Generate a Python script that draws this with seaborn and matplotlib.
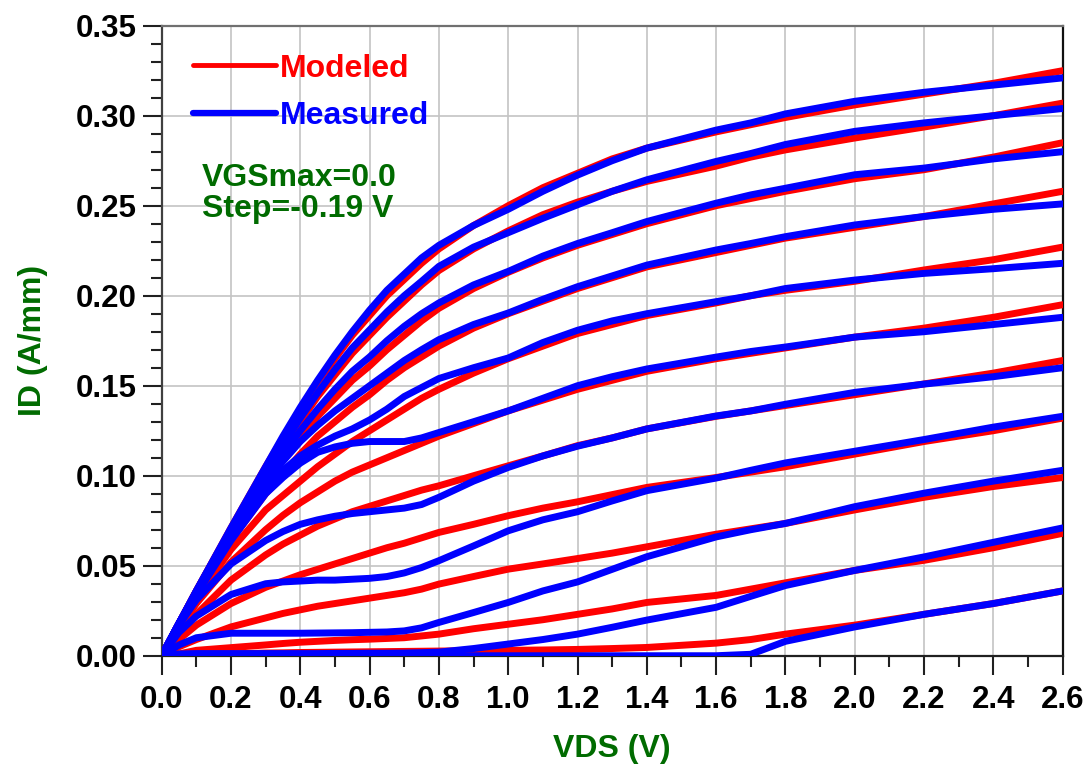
import numpy as np
import pandas as pd
import matplotlib
matplotlib.use("Agg")
import matplotlib.pyplot as plt
from matplotlib.lines import Line2D
from matplotlib.ticker import MultipleLocator, FormatStrFormatter
import seaborn as sns

# ---------------- data ----------------
vds = [0, 0.05, 0.1, 0.2, 0.3, 0.35, 0.4, 0.45, 0.5, 0.55, 0.6, 0.65, 0.7, 0.75,
       0.8, 0.9, 1.0, 1.1, 1.2, 1.3, 1.4, 1.6, 1.7, 1.8, 2.0, 2.2, 2.4, 2.6]

# Modeled (red) curves, VGS = 0 ... -1.9 V in -0.19 V steps
mod_1 = [0, .018, .036, .071, .105, .121, .137, .152, .165, .178, .189, .200, .209, .218, .226, .239, .250, .260, .268, .276, .282, .291, .295, .299, .306, .312, .318, .325]
mod_2 = [0, .018, .036, .070, .101, .116, .130, .144, .156, .168, .178, .188, .197, .206, .214, .226, .236, .245, .252, .258, .2635, .272, .277, .281, .2876, .2937, .300, .307]
mod_3 = [0, .018, .035, .067, .096, .109, .121, .133, .143, .153, .161, .170, .178, .186, .193, .204, .213, .221, .228, .234, .240, .250, .254, .258, .265, .270, .277, .285]
mod_4 = [0, .017, .034, .064, .090, .101, .112, .122, .130, .138, .145, .153, .160, .166, .172, .182, .190, .197, .204, .210, .216, .224, .228, .232, .238, .244, .251, .258]
mod_5 = [0, .016, .032, .059, .081, .089, .097, .105, .112, .119, .125, .131, .137, .143, .148, .157, .165, .172, .179, .184, .189, .196, .200, .203, .208, .2143, .220, .227]
mod_6 = [0, .015, .029, .052, .070, .078, .085, .091, .097, .102, .106, .110, .114, .118, .122, .129, .136, .142, .148, .153, .158, .165, .168, .171, .177, .182, .188, .195]
mod_7 = [0, .012, .023, .042, .056, .062, .067, .072, .076, .080, .083, .086, .089, .092, .0944, .100, .1055, .111, .1167, .121, .126, .133, .136, .139, .145, .151, .157, .164]
mod_8 = [0, .009, .017, .029, .038, .0415, .045, .048, .051, .054, .057, .060, .0625, .0655, .0685, .073, .0778, .082, .0855, .0895, .0935, .099, .102, .105, .112, .119, .125, .132]
mod_9 = [0, .005, .009, .016, .021, .0235, .0255, .0275, .029, .0305, .032, .0335, .035, .037, .0398, .044, .0481, .051, .054, .057, .0605, .0675, .0705, .0735, .081, .088, .094, .099]
mod_10 = [0, .001, .003, .0045, .006, .0068, .0075, .008, .0085, .0089, .0092, .0096, .0100, .011, .012, .015, .0175, .020, .023, .026, .0296, .0335, .037, .0405, .0474, .053, .060, .068]
mod_11 = [0, 0, .0005, .001, .0015, .0016, .0018, .0019, .002, .0021, .0022, .0023, .0024, .0025, .0026, .0028, .003, .0032, .0035, .004, .0046, .007, .009, .012, .017, .023, .029, .036]

# Measured (blue) curves
meas_1 = [0, .018, .036, .071, .105, .122, .138, .153, .167, .180, .192, .203, .212, .221, .228, .239, .248, .258, .267, .275, .282, .292, .296, .301, .308, .313, .317, .321]
meas_2 = [0, .018, .036, .070, .102, .117, .132, .146, .159, .171, .181, .191, .200, .208, .2163, .227, .235, .243, .2505, .258, .2644, .2746, .279, .284, .2913, .296, .300, .304]
meas_3 = [0, .018, .035, .068, .098, .112, .125, .137, .148, .158, .166, .175, .183, .190, .196, .206, .2135, .222, .229, .235, .2412, .2514, .256, .2597, .2672, .2709, .276, .280]
meas_4 = [0, .018, .035, .067, .096, .108, .119, .128, .136, .143, .150, .157, .164, .170, .1756, .184, .1904, .198, .205, .211, .217, .2254, .229, .2328, .2393, .244, .248, .251]
meas_5 = [0, .018, .035, .066, .093, .103, .111, .117, .122, .126, .131, .137, .144, .149, .154, .160, .1654, .174, .1808, .186, .190, .1967, .200, .204, .2087, .2124, .215, .218]
meas_6 = [0, .018, .034, .064, .090, .099, .107, .113, .116, .118, .119, .119, .119, .121, .124, .130, .136, .143, .150, .155, .1593, .1659, .169, .1715, .177, .180, .184, .188]
meas_7 = [0, .017, .031, .051, .064, .069, .073, .0755, .0775, .079, .080, .081, .082, .084, .088, .097, .1046, .111, .1164, .121, .126, .1332, .136, .1397, .1463, .1509, .155, .160]
meas_8 = [0, .013, .022, .034, .040, .041, .0415, .042, .042, .0425, .043, .044, .046, .049, .0528, .061, .0694, .0755, .080, .086, .0917, .0987, .103, .1071, .1136, .1201, .127, .133]
meas_9 = [0, .006, .010, .0125, .0125, .0125, .0125, .0126, .0127, .0128, .013, .0132, .0138, .0155, .0185, .024, .0296, .036, .041, .048, .055, .066, .070, .0735, .0828, .0903, .097, .103]
meas_10 = [0, .001, .0012, .0012, .0012, .0012, .0012, .0012, .0013, .0013, .0014, .0014, .0015, .0017, .002, .004, .0065, .009, .012, .0158, .0198, .0269, .033, .039, .0474, .0549, .063, .071]
meas_11 = [0, 0, 0, 0, 0, 0, 0, 0, 0, 0, 0, 0, 0, 0, 0, 0, 0, 0, 0, 0, 0, 0, .0008, .008, .016, .023, .029, .036]

modeled = [mod_1, mod_2, mod_3, mod_4, mod_5, mod_6, mod_7, mod_8, mod_9, mod_10, mod_11]
measured = [meas_1, meas_2, meas_3, meas_4, meas_5, meas_6, meas_7, meas_8, meas_9, meas_10, meas_11]

x_ticks = [0.0, 0.2, 0.4, 0.6, 0.8, 1.0, 1.2, 1.4, 1.6, 1.8, 2.0, 2.2, 2.4, 2.6]
y_ticks = [0.00, 0.05, 0.10, 0.15, 0.20, 0.25, 0.30, 0.35]

# ---------------- build long table ----------------
rows = []
for kind, curves in (("Modeled", modeled), ("Measured", measured)):
    for i, ys in enumerate(curves):
        if len(ys) != len(vds):
            raise ValueError(f"{kind} curve {i + 1}: {len(ys)} values")
        for xv, yv in zip(vds, ys):
            rows.append({"VDS": xv, "ID": yv, "curve": i, "kind": kind})
df = pd.DataFrame(rows)

# ---------------- style ----------------
sns.set_style("white")
plt.rcParams["font.family"] = ["Liberation Sans", "DejaVu Sans"]
plt.rcParams["font.weight"] = "bold"

RED = "#FF0000"
BLUE = "#0000FF"
GREEN = "#006B00"

fig = plt.figure(figsize=(10.91, 7.74), dpi=100)
ax = fig.add_axes([0.1482, 0.1528, 0.9740 - 0.1482, 0.9668 - 0.1528])

sns.lineplot(data=df[df.kind == "Modeled"], x="VDS", y="ID", units="curve",
             estimator=None, color=RED, lw=5, ax=ax, legend=False, zorder=3,
             solid_joinstyle="round")
sns.lineplot(data=df[df.kind == "Measured"], x="VDS", y="ID", units="curve",
             estimator=None, color=BLUE, lw=5, ax=ax, legend=False, zorder=4,
             solid_joinstyle="round")

ax.set_xlim(0, 2.6)
ax.set_ylim(0, 0.35)
ax.set_xticks(x_ticks)
ax.set_yticks(y_ticks)
ax.xaxis.set_major_formatter(FormatStrFormatter("%.1f"))
ax.yaxis.set_major_formatter(FormatStrFormatter("%.2f"))
ax.xaxis.set_minor_locator(MultipleLocator(0.1))
ax.yaxis.set_minor_locator(MultipleLocator(0.01))

ax.grid(True, which="major", color="#c4c4c4", lw=1.2, zorder=0)
ax.set_axisbelow(True)

ax.tick_params(which="both", bottom=True, left=True, top=False, right=False)
ax.tick_params(which="major", direction="out", length=14, width=1.5,
               color="#202020", labelsize=22.5, labelcolor="black")
ax.tick_params(which="minor", direction="out", length=8, width=1.5,
               color="#202020")
ax.tick_params(axis="x", which="major", pad=7)
ax.tick_params(axis="y", which="major", pad=4)
for lab in ax.get_xticklabels() + ax.get_yticklabels():
    lab.set_fontweight("bold")

for side, col in (("left", "#404040"), ("bottom", "#202020"),
                  ("right", "#101010"), ("top", "#707070")):
    ax.spines[side].set_visible(True)
    ax.spines[side].set_color(col)
    ax.spines[side].set_linewidth(1.6)

ax.set_xlabel("VDS (V)", fontsize=23, fontweight="bold", color=GREEN, labelpad=14)
ax.set_ylabel("ID (A/mm)", fontsize=23, fontweight="bold", color=GREEN, labelpad=20)

handles = [Line2D([], [], color=RED, lw=3.5), Line2D([], [], color=BLUE, lw=4.5)]
leg = ax.legend(handles, ["Modeled", "Measured"], loc="upper left",
                bbox_to_anchor=(0.028, 0.966), frameon=False,
                prop={"size": 23, "weight": "bold"},
                handlelength=2.6, handletextpad=0.12, labelspacing=0.55,
                borderpad=0.2, borderaxespad=0)
for txt, col in zip(leg.get_texts(), [RED, BLUE]):
    txt.set_color(col)

ax.text(0.045, 0.733, "VGSmax=0.0\nStep=-0.19 V", transform=ax.transAxes,
        fontsize=23, fontweight="bold", color=GREEN, va="center", ha="left",
        linespacing=1.05, zorder=5)

fig.savefig("out.png", dpi=100)
